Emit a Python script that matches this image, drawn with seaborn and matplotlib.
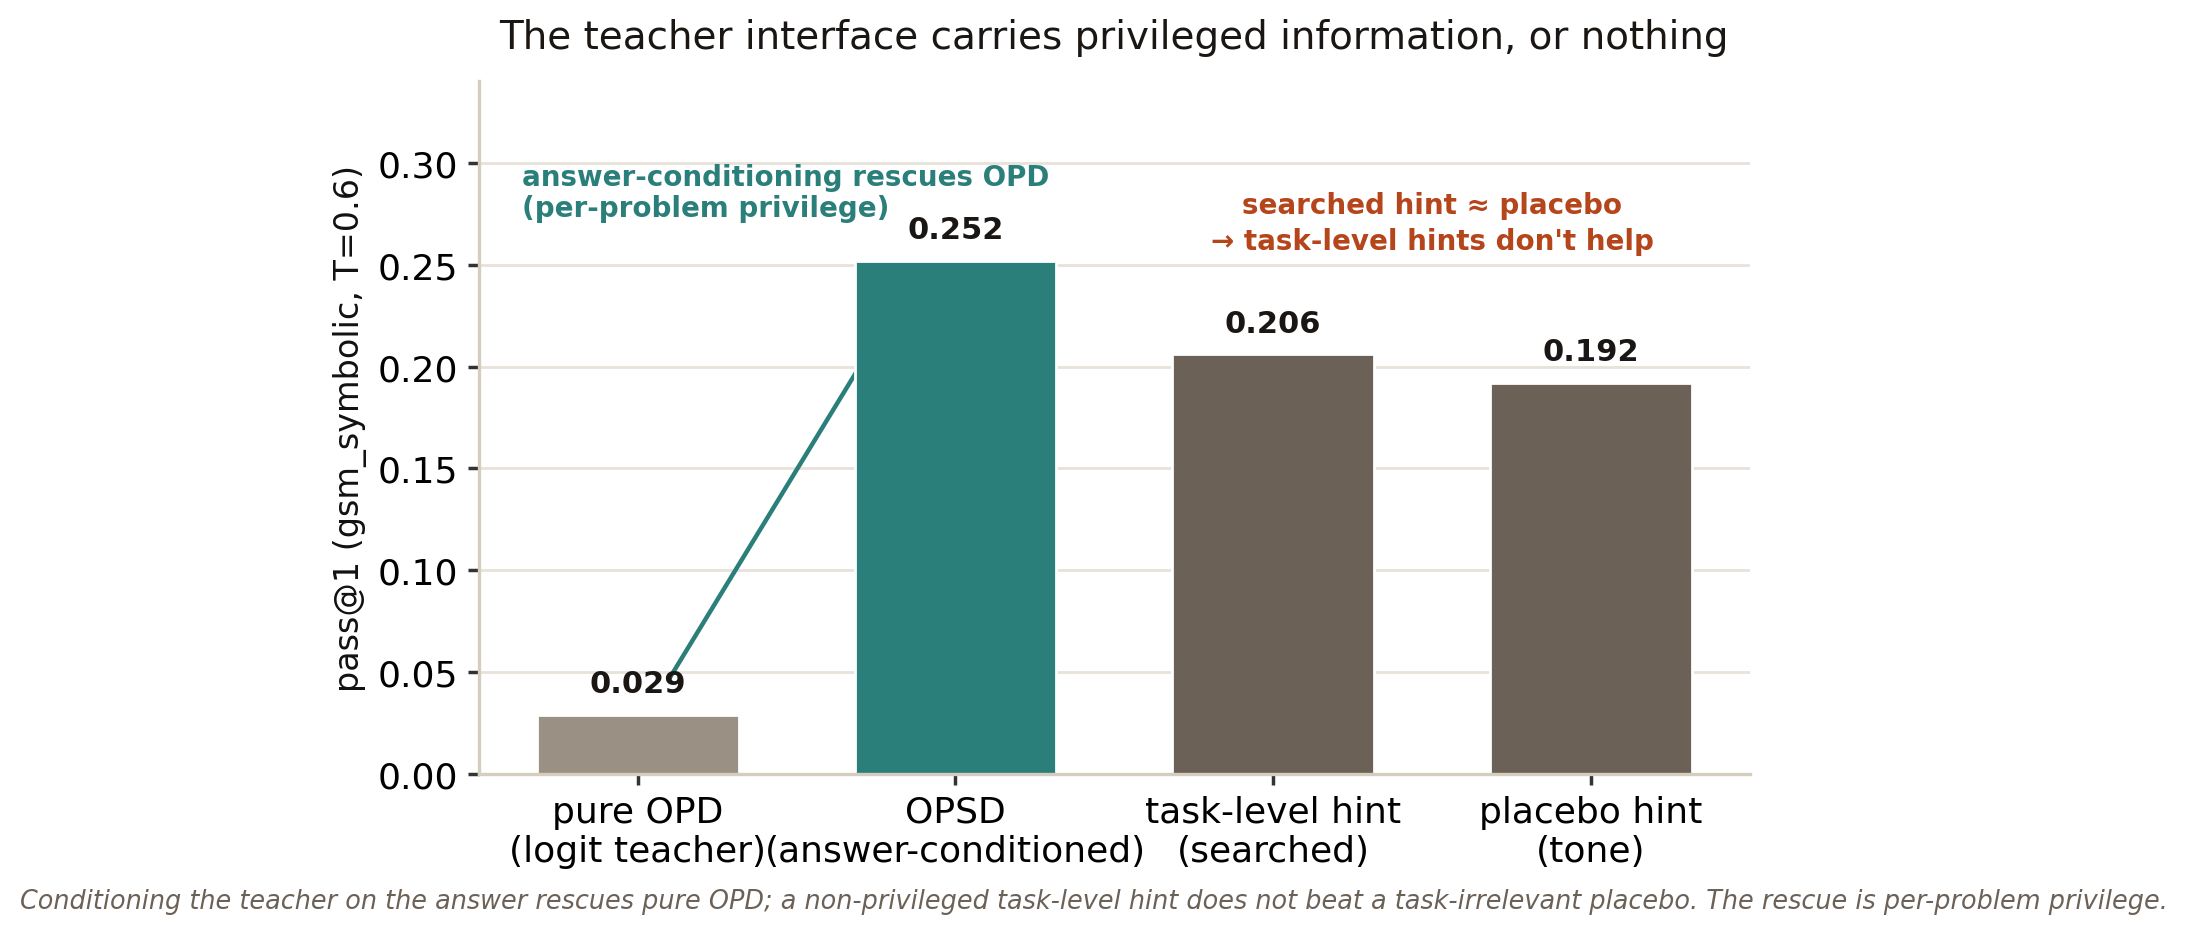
import matplotlib
matplotlib.use("Agg")
import matplotlib.pyplot as plt
import seaborn as sns
import pandas as pd

categories = ["pure OPD\n(logit teacher)", "OPSD\n(answer-conditioned)",
              "task-level hint\n(searched)", "placebo hint\n(tone)"]
values = [0.029, 0.252, 0.206, 0.192]
colors = ["#9a9184", "#2a7f7a", "#6b6157", "#6b6157"]
value_labels = ["0.029", "0.252", "0.206", "0.192"]

title = "The teacher interface carries privileged information, or nothing"
ylabel = "pass@1 (gsm_symbolic, T=0.6)"
note1 = "answer-conditioning rescues OPD\n(per-problem privilege)"
note2 = "searched hint \u2248 placebo\n\u2192 task-level hints don't help"
caption = ("Conditioning the teacher on the answer rescues pure OPD; a non-privileged task-level hint "
           "does not beat a task-irrelevant placebo. The rescue is per-problem privilege.")

sns.set_theme(style="ticks")
plt.rcParams['font.family'] = ['DejaVu Sans']

df = pd.DataFrame({"cat": categories, "val": values})

fig = plt.figure(figsize=(10.935, 4.685), dpi=200)
ax = fig.add_axes([0.219, 0.173, 0.581, 0.739])

# connector line (drawn beneath bars; its end is hidden behind the OPSD bar)
ax.annotate("", xy=(0.8, 0.226), xytext=(0.1, values[0] + 0.018),
            arrowprops=dict(arrowstyle="-", color="#2a7f7a", lw=1.6,
                            shrinkA=0, shrinkB=0), zorder=1)

sns.barplot(data=df, x="cat", y="val", hue="cat", palette=colors, legend=False,
            width=0.635, ax=ax, zorder=2, saturation=1)

for i, (v, lab) in enumerate(zip(values, value_labels)):
    ax.annotate(lab, xy=(i, v), xytext=(0, 6), textcoords="offset points",
                ha="center", va="bottom", fontsize=11, fontweight="bold",
                color="#1a1614", zorder=5)

ax.text(-0.365, 0.271, note1, ha="left", va="bottom", fontsize=10,
        fontweight="bold", color="#2a7f7a", linespacing=1.15)
ax.text(2.5, 0.255, note2, ha="center", va="bottom", fontsize=10,
        fontweight="bold", color="#b5451b", linespacing=1.35)

ax.set_xlim(-0.5, 3.5)
ax.set_ylim(0, 0.34)
ax.set_yticks([0, 0.05, 0.10, 0.15, 0.20, 0.25, 0.30])
ax.set_yticklabels([f"{t:.2f}" for t in [0, 0.05, 0.10, 0.15, 0.20, 0.25, 0.30]])
ax.yaxis.grid(True, color="#e8e2d8", lw=1.0, zorder=0)
ax.set_axisbelow(True)
ax.set_xlabel("")
ax.set_ylabel(ylabel, fontsize=12, color="#111111")
ax.tick_params(axis="both", labelsize=13, length=4, color="#333333",
               labelcolor="#000000")
sns.despine(ax=ax)
for s in ["left", "bottom"]:
    ax.spines[s].set_color("#d6cdc1")
    ax.spines[s].set_linewidth(1.2)

ax.set_title(title, fontsize=14, color="#1a1614", pad=12)
fig.text(0.5, 0.037, caption, ha="center", va="center", fontsize=9.2,
         style="italic", color="#6b6157")

fig.savefig("out.png", dpi=200)
